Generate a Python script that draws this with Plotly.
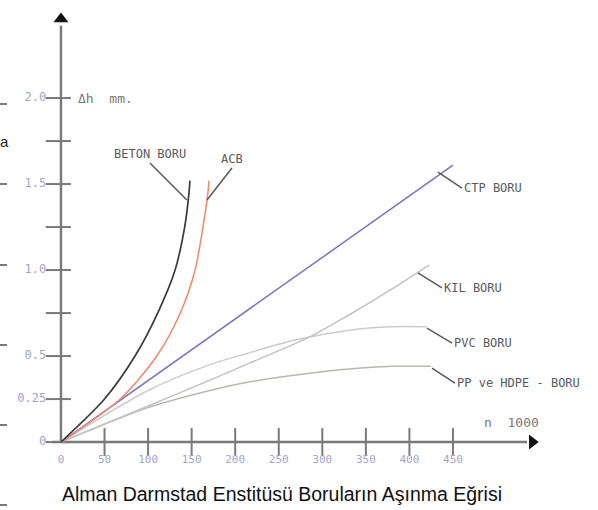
import plotly.graph_objects as go

# Aşınma eğrileri (x: n x 1000, y: Δh mm)
beton_x = [0, 50, 85, 111, 131, 142, 147, 148]
beton_y = [0, 0.25, 0.5, 0.75, 1.0, 1.25, 1.45, 1.52]

acb_x = [0, 68, 110, 137, 154, 163, 168, 170]
acb_y = [0, 0.25, 0.5, 0.75, 1.0, 1.25, 1.42, 1.52]

ctp_x = [0, 450]
ctp_y = [0, 1.61]

kil_x = [0, 100, 171, 217, 285, 331, 380, 423]
kil_y = [0, 0.21, 0.36, 0.46, 0.61, 0.74, 0.89, 1.03]

pvc_x = [0, 100, 171, 217, 266, 331, 380, 420]
pvc_y = [0, 0.30, 0.45, 0.52, 0.59, 0.65, 0.67, 0.67]

pp_x = [0, 100, 171, 217, 285, 331, 380, 425]
pp_y = [0, 0.20, 0.30, 0.35, 0.40, 0.425, 0.44, 0.44]

# Eksen işaretleri
x_ticks = [0, 50, 100, 150, 200, 250, 300, 350, 400, 450]
x_tick_labels = ["0", "50", "100", "150", "200", "250", "300", "350", "400", "450"]
y_ticks = [0, 0.25, 0.5, 0.75, 1.0, 1.25, 1.5, 1.75, 2.0]
y_label_vals = [0, 0.25, 0.5, 1.0, 1.5, 2.0]
y_tick_labels = ["0", "0.25", "0.5", "1.0", "1.5", "2.0"]

AXIS = "#7a7a7a"
TICKTXT = "#a3a3d0"
LABEL = "#5a5a5a"
CAD_FONT = "DejaVu Sans Mono"

fig = go.Figure()

# eksen çizgileri
fig.add_trace(go.Scatter(x=[0, 0], y=[0, 2.42], mode="lines",
                         line=dict(color=AXIS, width=2.5)))
fig.add_trace(go.Scatter(x=[-10, 535], y=[0, 0], mode="lines",
                         line=dict(color=AXIS, width=2.5)))
# oklar
fig.add_trace(go.Scatter(x=[0], y=[2.46], mode="markers",
                         marker=dict(symbol="triangle-up", size=13, color="#111")))
fig.add_trace(go.Scatter(x=[541], y=[0], mode="markers",
                         marker=dict(symbol="triangle-right", size=13, color="#111")))

# çentikler
fig.add_trace(go.Scatter(x=[-3] * len(y_ticks), y=y_ticks, mode="markers",
                         marker=dict(symbol="line-ew", size=18,
                                     line=dict(color=AXIS, width=2))))
fig.add_trace(go.Scatter(x=x_ticks[1:], y=[0] * (len(x_ticks) - 1), mode="markers",
                         marker=dict(symbol="line-ns", size=20,
                                     line=dict(color=AXIS, width=2))))

# çentik yazıları
fig.add_trace(go.Scatter(x=[-17] * len(y_label_vals), y=y_label_vals, mode="text",
                         text=y_tick_labels, textposition="middle left",
                         textfont=dict(family=CAD_FONT, size=12, color=TICKTXT)))
fig.add_trace(go.Scatter(x=x_ticks, y=[-0.105] * len(x_ticks), mode="text",
                         text=x_tick_labels, textposition="middle center",
                         textfont=dict(family=CAD_FONT, size=11, color=TICKTXT)))

# eğriler
curves = [
    (pp_x, pp_y, "#b4bab2", 1.5),
    (pvc_x, pvc_y, "#cccccc", 1.5),
    (kil_x, kil_y, "#c2c2c2", 1.5),
    (ctp_x, ctp_y, "#7474c4", 1.5),
    (acb_x, acb_y, "#f0886a", 1.5),
    (beton_x, beton_y, "#3a3a3a", 1.7),
]
for xs, ys, col, w in curves:
    fig.add_trace(go.Scatter(x=xs, y=ys, mode="lines", line_shape="spline",
                             line=dict(color=col, width=w, smoothing=0.8)))

# etiketler (leader çizgileri ile)
labels = [
    ("BETON BORU", 144.6, 1.407, -37, -37, "center", "bottom"),
    ("ACB", 167.6, 1.407, 25, -32, "center", "bottom"),
    ("CTP BORU", 432.8, 1.57, 24, 16, "left", "middle"),
    ("KIL BORU", 409.8, 0.983, 24, 15, "left", "middle"),
    ("PVC BORU", 420.2, 0.663, 25, 15, "left", "middle"),
    ("PP ve HDPE - BORU", 425.9, 0.430, 23, 15, "left", "middle"),
]
for txt, x, y, ax, ay, xa, ya in labels:
    fig.add_annotation(x=x, y=y, ax=ax, ay=ay, text=txt, showarrow=True,
                       arrowhead=0, arrowwidth=1.5, arrowcolor=LABEL,
                       xanchor=xa, yanchor=ya,
                       font=dict(family=CAD_FONT, size=12, color=LABEL))

# eksen başlıkları
fig.add_annotation(x=17, y=2.0, text="Δh  mm.", showarrow=False, xanchor="left",
                   yanchor="middle", font=dict(family=CAD_FONT, size=13, color="#777"))
fig.add_annotation(x=483, y=0.115, text="n  1000", showarrow=False, xanchor="left",
                   yanchor="middle", font=dict(family=CAD_FONT, size=13, color="#777"))

# alt başlık
fig.add_annotation(x=0.472, y=1 - 494 / 510, xref="paper", yref="paper",
                   text="Alman Darmstad Enstitüsü Boruların Aşınma Eğrisi",
                   showarrow=False, xanchor="center", yanchor="middle",
                   font=dict(family="Liberation Sans", size=19.5, color="#111"))

# sol kenardaki sayfa kalıntıları
for py in [104, 184, 265, 345, 425, 505]:
    fig.add_shape(type="line", xref="paper", yref="paper",
                  x0=0, x1=7 / 598, y0=1 - py / 510, y1=1 - py / 510,
                  line=dict(color="#222", width=1.2))
fig.add_annotation(x=-0.004, y=1 - 141 / 510, xref="paper", yref="paper", text="a",
                   showarrow=False, xanchor="left", yanchor="middle",
                   font=dict(family="Liberation Sans", size=15, color="#222"))

fig.update_layout(
    width=598,
    height=510,
    margin=dict(l=0, r=0, t=0, b=0),
    showlegend=False,
    plot_bgcolor="#ffffff",
    paper_bgcolor="#ffffff",
    xaxis=dict(range=[-70.0, 616.5], visible=False, fixedrange=True),
    yaxis=dict(range=[-0.395, 2.570], visible=False, fixedrange=True),
)

fig.write_html("out.html", config={"displayModeBar": False},
               post_script="document.body.style.margin='0';")
